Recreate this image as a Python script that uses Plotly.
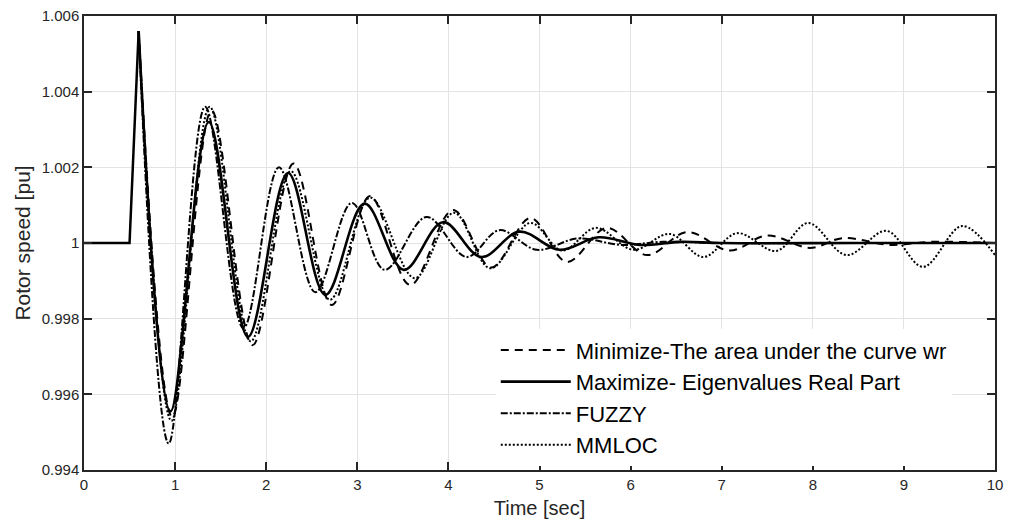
import plotly.graph_objects as go

# ---------------- data ----------------
# shared disturbance onset (all four responses coincide here)
t_onset = [0.0, 0.5, 0.6]
w_onset = [1.0, 1.0, 1.0056]

# Minimize-The area under the curve wr (dashed)
t_min = [0.6, 0.97, 1.40, 1.85, 2.30, 2.72, 3.14, 3.58, 4.05, 4.47, 4.90, 5.30,
         5.74, 6.18, 6.62, 7.09, 7.50, 7.97, 8.33, 8.85, 9.30, 10.0]
w_min = [1.0056, 0.99540, 1.00350, 0.99730, 1.00210, 0.99836, 1.00124, 0.99889,
         1.00087, 0.99935, 1.00066, 0.99950, 1.00040, 0.99968, 1.00029, 0.99980,
         1.00020, 0.99987, 1.00013, 0.99995, 1.00003, 1.00000]

# Maximize- Eigenvalues Real Part (solid)
t_max = [0.6, 0.95, 1.37, 1.80, 2.24, 2.65, 3.08, 3.51, 3.94, 4.36, 4.78, 5.22,
         5.65, 6.10, 6.55, 7.00, 8.50, 10.0]
w_max = [1.0056, 0.99555, 1.00320, 0.99752, 1.00185, 0.99863, 1.00104, 0.99929,
         1.00055, 0.99963, 1.00030, 0.99982, 1.00015, 0.99995, 1.00003, 1.00000,
         1.00000, 1.00000]

# FUZZY (dash-dot)
t_fuz = [0.6, 0.93, 1.33, 1.75, 2.14, 2.54, 2.94, 3.30, 3.76, 4.20, 4.56, 4.97,
         5.42, 5.90, 6.35, 7.00, 8.50, 10.0]
w_fuz = [1.0056, 0.99470, 1.00360, 0.99775, 1.00200, 0.99870, 1.00106, 0.99929,
         1.00069, 0.99963, 1.00034, 0.99982, 1.00012, 0.99995, 1.00003, 1.00000,
         1.00000, 1.00000]

# MMLOC (dotted)
t_mml = [0.6, 0.96, 1.38, 1.83, 2.27, 2.70, 3.14, 3.63, 4.06, 4.46, 4.90, 5.25,
         5.62, 6.03, 6.43, 6.80, 7.17, 7.60, 7.95, 8.37, 8.81, 9.21, 9.64, 10.0]
w_mml = [1.0056, 0.99530, 1.00360, 0.99740, 1.00190, 0.99850, 1.00120, 0.99907,
         1.00080, 0.99933, 1.00053, 0.99980, 1.00040, 0.99982, 1.00024, 0.99963,
         1.00026, 0.99979, 1.00053, 0.99968, 1.00032, 0.99937, 1.00045, 0.99968]

x_ticks = [0, 1, 2, 3, 4, 5, 6, 7, 8, 9, 10]
y_ticks = [0.994, 0.996, 0.998, 1.0, 1.002, 1.004, 1.006]
y_tick_text = ["0.994", "0.996", "0.998", "1", "1.002", "1.004", "1.006"]

names = ["Minimize-The area under the curve wr", "Maximize- Eigenvalues Real Part",
         "FUZZY", "MMLOC"]

# ---------------- figure ----------------
FONT = "Liberation Sans, Arial, Helvetica, sans-serif"
AX = "#262626"

fig = go.Figure()

fig.add_trace(go.Scatter(x=t_onset, y=w_onset, mode="lines", showlegend=False,
                         line=dict(color="black", width=2.5), hoverinfo="skip"))

series = [
    (t_min, w_min, names[0], "8px,6px", 2.0),
    (t_max, w_max, names[1], "solid", 2.6),
    (t_fuz, w_fuz, names[2], "7px,2px,2px,2px", 2.0),
    (t_mml, w_mml, names[3], "2px,2px", 2.0),
]
for tx, wy, nm, dash, lw in series:
    fig.add_trace(go.Scatter(x=tx, y=wy, mode="lines", name=nm,
                             line=dict(color="black", width=lw, dash=dash,
                                       shape="spline", smoothing=1.0)))

axis_common = dict(showline=True, linecolor=AX, linewidth=1.5, mirror="ticks",
                   ticks="inside", ticklen=8, tickwidth=1.5, tickcolor=AX,
                   showgrid=True, gridcolor="#e3e3e3", gridwidth=1,
                   zeroline=False, automargin=False,
                   tickfont=dict(family=FONT, size=15, color=AX))

fig.update_xaxes(range=[0, 10], tickvals=x_ticks,
                 title=dict(text="Time [sec]", font=dict(family=FONT, size=20, color=AX),
                            standoff=9),
                 **axis_common)
fig.update_yaxes(range=[0.994, 1.006], tickvals=y_ticks, ticktext=y_tick_text,
                 title=dict(text="Rotor speed [pu]", font=dict(family=FONT, size=21, color=AX),
                            standoff=5),
                 **axis_common)

fig.update_layout(
    width=1011, height=522,
    margin=dict(l=84, r=16, t=16, b=52),
    paper_bgcolor="white", plot_bgcolor="white",
    font=dict(family=FONT, color=AX),
    legend=dict(x=0.452, y=0.31, xanchor="left", yanchor="top",
                bgcolor="white", borderwidth=0, itemwidth=70,
                font=dict(family=FONT, size=22, color="black"),
                tracegroupgap=0),
    showlegend=True,
)

fig.write_html("out.html")
